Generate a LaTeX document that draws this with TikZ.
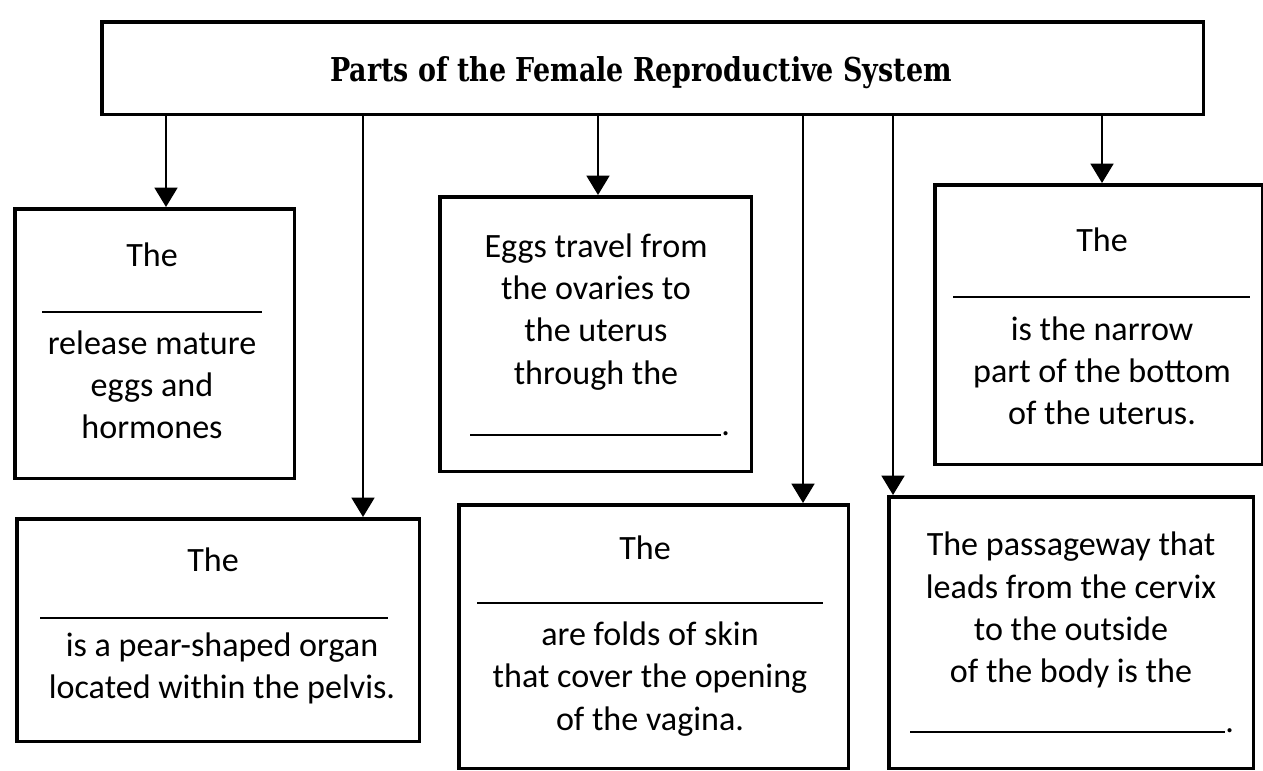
\documentclass[tikz,border=0pt]{standalone}
\usepackage{fontspec}
\setmainfont{Carlito}
\newfontfamily\headfont[FakeStretch=0.82]{DejaVu Serif}
\usetikzlibrary{arrows.meta, positioning}
\tikzset{
  cardbox/.style={draw, line width=2pt, rectangle, inner sep=0pt, anchor=north west},
  cardtext/.style={align=center, inner sep=0pt, font=\fontsize{19.4}{24}\selectfont},
  blank/.style={line width=1.1pt},
  feed/.style={line width=1.2pt, -{Triangle[width=13pt, length=11pt]}}
}

\begin{document}
\begin{tikzpicture}[x=0.02cm, y=-0.02cm]
      \useasboundingbox (0,0) rectangle (1263,770);
      \node[cardbox, minimum width=22.04cm, minimum height=1.86cm] (head) at (100,20) {};
      \node[font=\headfont\bfseries\fontsize{18.7}{22}\selectfont] (headtext) at (641,73) {Parts of the Female Reproductive System};

      \node[cardbox, minimum width=5.6cm, minimum height=5.4cm] (ovary) at (13,207) {};
      \node[cardbox, minimum width=6.24cm, minimum height=5.5cm] (tube) at (438,195) {};
      \node[cardbox, minimum width=6.56cm, minimum height=5.6cm] (cervix) at (933,183) {};
      \node[cardbox, minimum width=8.06cm, minimum height=4.46cm] (uterus) at (15,517) {};
      \node[cardbox, minimum width=7.8cm, minimum height=5.28cm] (labia) at (457,503) {};
      \node[cardbox, minimum width=7.3cm, minimum height=5.44cm] (vagina) at (887,495) {};

      \node[cardtext] (ovarythe) at (152,255) {The};
      \draw[blank] (42,312) -- (262,312);
      \node[cardtext] (ovarynote) at (152,385) {release mature\\eggs and\\hormones};

      \node[cardtext] (tubenote) at (596,312) {Eggs travel from\\the ovaries to\\the uterus\\through the};
      \draw[blank] (470,435) -- (721,435);
      \node[cardtext, anchor=base west] (tubedot) at (721,435) {.};

      \node[cardtext] (cervixthe) at (1102,240) {The};
      \draw[blank] (953,297) -- (1250,297);
      \node[cardtext] (cervixnote) at (1102,371) {is the narrow\\part of the bottom\\of the uterus.};

      \node[cardtext] (uterusthe) at (213,560) {The};
      \draw[blank] (40,618) -- (388,618);
      \node[cardtext] (uterusnote) at (222,668) {is a pear-shaped organ\\located within the pelvis.};

      \node[cardtext] (labiathe) at (645,548) {The};
      \draw[blank] (477,603) -- (823,603);
      \node[cardtext] (labianote) at (650,679) {are folds of skin\\that cover the opening\\of the vagina.};

      \node[cardtext] (vaginanote) at (1071,610) {The passageway that\\leads from the cervix\\to the outside\\of the body is the};
      \draw[blank] (910,732) -- (1225,732);
      \node[cardtext, anchor=base west] (vaginadot) at (1225,732) {.};

      \draw[feed] (head.south -| 166,0) -- (ovary.north -| 166,0);
      \draw[feed] (head.south -| 363,0) -- (uterus.north -| 363,0);
      \draw[feed] (head.south -| 598,0) -- (tube.north -| 598,0);
      \draw[feed] (head.south -| 803,0) -- (labia.north -| 803,0);
      \draw[feed] (head.south -| 893,0) -- (vagina.north -| 893,0);
      \draw[feed] (head.south -| 1102,0) -- (cervix.north -| 1102,0);
    \end{tikzpicture}
\end{document}
